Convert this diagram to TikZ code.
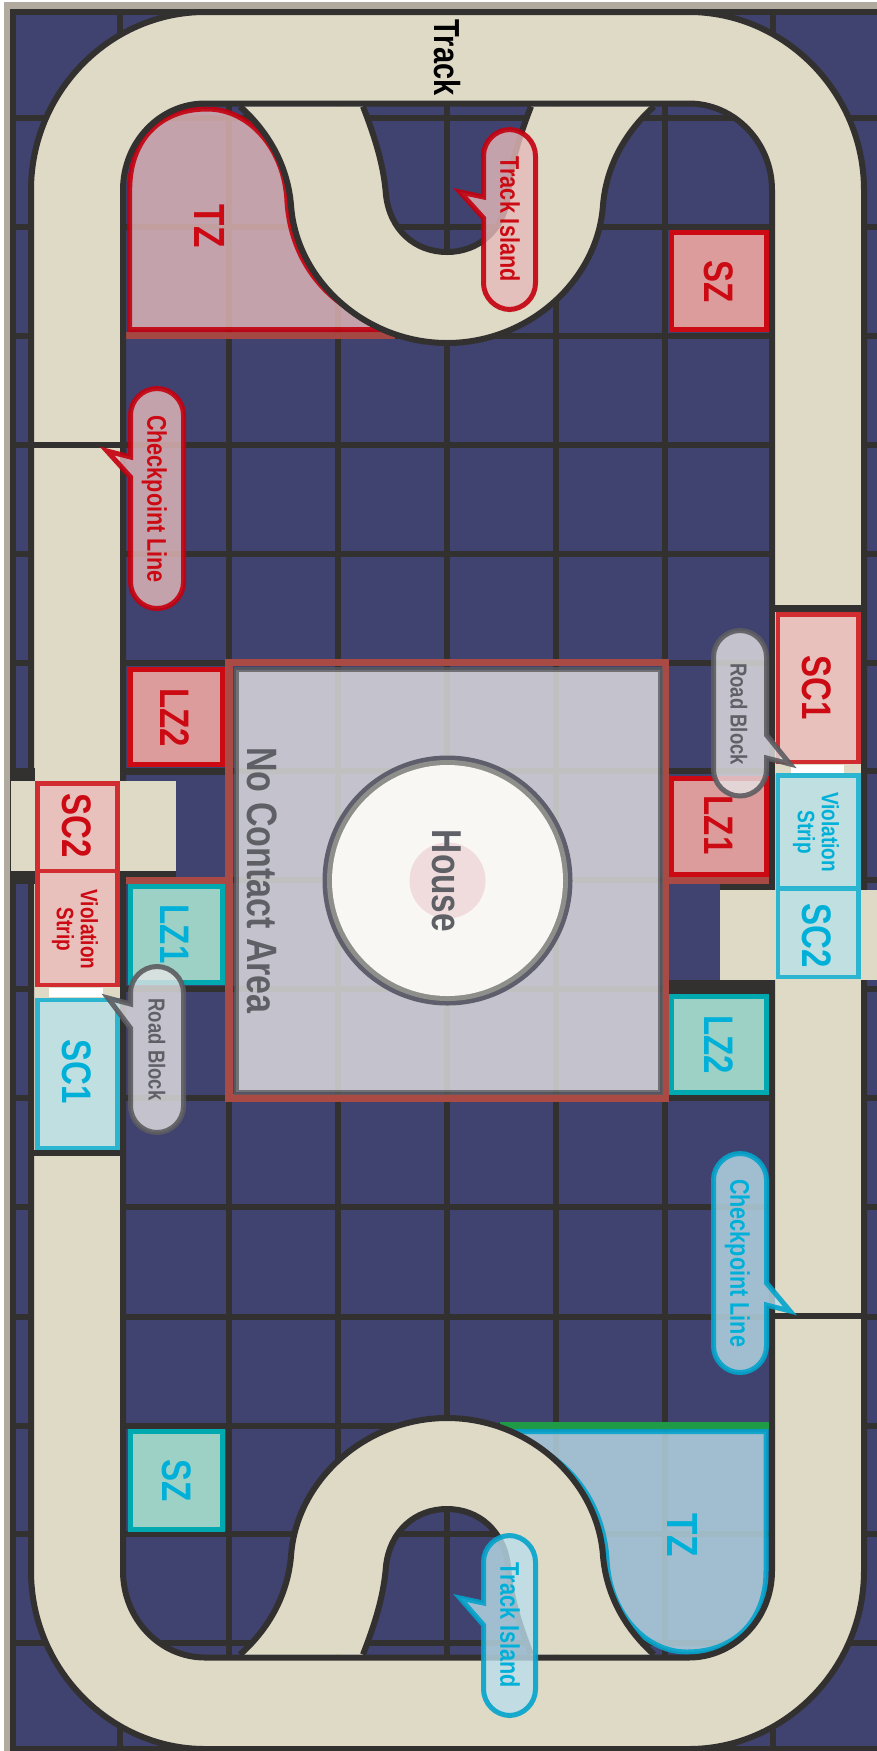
\documentclass[tikz,border=0pt]{standalone}
\usepackage{graphicx}
\usepackage{fontspec}
\setmainfont{Liberation Sans}
\newfontfamily\lblfont{Liberation Sans Bold}
\definecolor{navy}{HTML}{404270}
\definecolor{gridc}{HTML}{333130}
\definecolor{beige}{HTML}{DFDAC6}
\definecolor{edgeg}{HTML}{B0AB9E}
\definecolor{rd}{HTML}{CC0A14}
\definecolor{rdb}{HTML}{D12C30}
\definecolor{rdf}{HTML}{E8C0BC}
\definecolor{rdz}{HTML}{DD9C9C}
\definecolor{rds}{HTML}{C4000E}
\definecolor{rdt}{HTML}{E6BABB}
\definecolor{bl}{HTML}{00B0D8}
\definecolor{bls}{HTML}{04A4CC}
\definecolor{blb}{HTML}{2BB5D0}
\definecolor{blf}{HTML}{C0DFE0}
\definecolor{blt}{HTML}{BADDEA}
\definecolor{tlb}{HTML}{00A9B0}
\definecolor{tlf}{HTML}{9DD1C5}
\definecolor{gyt}{HTML}{E5E4E5}
\definecolor{gys}{HTML}{5C5C60}
\definecolor{gyx}{HTML}{5F5F66}
\definecolor{brn}{HTML}{AA4A44}
\definecolor{grn}{HTML}{1F9A46}
\definecolor{ringd}{HTML}{5E5E6C}
\definecolor{ringg}{HTML}{8E8E8A}
\definecolor{housef}{HTML}{F9F7F3}
\definecolor{housep}{HTML}{F0DCDC}
\tikzset{
 gridline/.style={draw=gridc,line width=6.5pt},
 trackedge/.style={draw=gridc,line width=6pt,line join=round},
 txtlabel/.style={rotate=-90,inner sep=0pt,anchor=base,font=\lblfont},
 redcall/.style={draw=rds,fill=rdt,draw opacity=.9,fill opacity=.8,line width=5pt,line join=miter},
 bluecall/.style={draw=bls,fill=blt,draw opacity=.9,fill opacity=.8,line width=5pt,line join=miter},
 greycall/.style={draw=gys,fill=gyt,draw opacity=.9,fill opacity=.8,line width=5pt,line join=miter},
 redzone/.style={draw=rd,fill=rdz,line width=5pt},
 tealzone/.style={draw=tlb,fill=tlf,line width=5pt},
 redstrip/.style={draw=rdb,fill=rdf,line width=4.8pt},
 bluestrip/.style={draw=blb,fill=blf,line width=4.8pt}
}
\newcommand\txtlab[6]{\node[txtlabel,text=#5] (#1) at ({#2-0.4475*#4},#3) {\fontsize{#4}{#4}\selectfont\scalebox{1}[1.25]{#6}};}
\newcommand\pillcall[7]{\draw[#1] ({#2},{#3+26.5}) .. controls ({#2},{#3+12}) and ({#2+12},{#3}) .. ({#2+26.5},{#3}) -- ({#4-26.5},{#3}) .. controls ({#4-12},{#3}) and ({#4},{#3+12}) .. ({#4},{#3+26.5}) #6 -- ({#4},{#5-26.5}) .. controls ({#4},{#5-12}) and ({#4-12},{#5}) .. ({#4-26.5},{#5}) -- ({#2+26.5},{#5}) .. controls ({#2+12},{#5}) and ({#2},{#5-12}) .. ({#2},{#5-26.5}) #7 -- cycle;}
\begin{document}
\begin{tikzpicture}[x=1pt,y=-1pt]
\useasboundingbox (0,0) rectangle (877,1751);
\fill[white] (0,0) rectangle (877,1751);
\fill[edgeg] (4,2) rectangle (877,12);
\fill[edgeg] (4,2) rectangle (12,1751);
\fill[navy] (12,12) rectangle (877,1751);
% grid
\foreach \gx in {13,120,229,338,447,556,665,773}{\draw[gridline] (\gx,9) -- (\gx,1751);}
\foreach \gy in {12,118,227,336,445,554,663,771,880,989,1098,1207,1317,1426,1534,1643,1749}{\draw[gridline] (10,\gy) -- (877,\gy);}
% target zones under the track
\fill[brn,opacity=.95] (126,332) rectangle (395,339);
\fill[grn] (500,1422) rectangle (769,1429);
\draw[draw=rds,fill=rdt,draw opacity=.9,fill opacity=.8,line width=5pt] (129.7,329.5) -- (129.7,190) .. controls (129.7,140) and (160,109) .. (207,109) .. controls (250,109) and (285,150) .. (287,202) .. controls (292,277) and (349,329.5) .. (424,329.5) -- cycle;
\draw[draw=bls,fill=blt,draw opacity=.9,fill opacity=.8,line width=5pt] (766,1431.5) -- (766,1571) .. controls (766,1621) and (734,1652) .. (687,1652) .. controls (644,1652) and (609,1611) .. (607,1559) .. controls (602,1484) and (545,1431.5) .. (470,1431.5) -- cycle;
% track ring
\filldraw[trackedge,fill=beige,even odd rule]
 (31,190) .. controls (31,92) and (110,12) .. (205,12) -- (689,12) .. controls (784,12) and (864,92) .. (864,190) -- (864,1571) .. controls (864,1669) and (784,1749) .. (689,1749) -- (205,1749) .. controls (110,1749) and (31,1669) .. (31,1571) -- cycle
 (123,190) .. controls (123,142) and (160,103.5) .. (205,103.5) -- (689,103.5) .. controls (734,103.5) and (772,142) .. (772,190) -- (772,1571) .. controls (772,1619) and (734,1657.5) .. (689,1657.5) -- (205,1657.5) .. controls (160,1657.5) and (123,1619) .. (123,1571) -- cycle;
% top hairpin
\fill[beige] (240,106.5) .. controls (272,135) and (288,170) .. (291,205) .. controls (296,280) and (365,343) .. (447,343) .. controls (529,343) and (598,280) .. (603,205) .. controls (606,170) and (622,135) .. (654,106.5) -- (531,106.5) .. controls (516,145) and (510,170) .. (508,195) .. controls (504,230) and (479,252) .. (447,252) .. controls (415,252) and (390,230) .. (386,195) .. controls (384,170) and (378,145) .. (363,106.5) -- cycle;
\draw[trackedge] (240,106.5) .. controls (272,135) and (288,170) .. (291,205) .. controls (296,280) and (365,343) .. (447,343) .. controls (529,343) and (598,280) .. (603,205) .. controls (606,170) and (622,135) .. (654,106.5);
\draw[trackedge] (531,106.5) .. controls (516,145) and (510,170) .. (508,195) .. controls (504,230) and (479,252) .. (447,252) .. controls (415,252) and (390,230) .. (386,195) .. controls (384,170) and (378,145) .. (363,106.5);
% bottom hairpin
\fill[beige] (240,1654.5) .. controls (272,1626) and (288,1591) .. (291,1556) .. controls (296,1481) and (365,1418) .. (447,1418) .. controls (529,1418) and (598,1481) .. (603,1556) .. controls (606,1591) and (622,1626) .. (654,1654.5) -- (531,1654.5) .. controls (516,1616) and (510,1591) .. (508,1566) .. controls (504,1531) and (479,1509) .. (447,1509) .. controls (415,1509) and (390,1531) .. (386,1566) .. controls (384,1591) and (378,1616) .. (363,1654.5) -- cycle;
\draw[trackedge] (240,1654.5) .. controls (272,1626) and (288,1591) .. (291,1556) .. controls (296,1481) and (365,1418) .. (447,1418) .. controls (529,1418) and (598,1481) .. (603,1556) .. controls (606,1591) and (622,1626) .. (654,1654.5);
\draw[trackedge] (531,1654.5) .. controls (516,1616) and (510,1591) .. (508,1566) .. controls (504,1531) and (479,1509) .. (447,1509) .. controls (415,1509) and (390,1531) .. (386,1566) .. controls (384,1591) and (378,1616) .. (363,1654.5);
% checkpoint lines and lane ends
\fill[gridc] (31,442) rectangle (123,448);
\fill[gridc] (772,1313) rectangle (864,1319);
\fill[gridc] (772,605) rectangle (864,612);
\fill[gridc] (31,1150) rectangle (123,1156);
% side roads
\fill[gridc] (11,768) rectangle (35,781);
\fill[gridc] (120,768) rectangle (225,775);
\fill[gridc] (11,871) rectangle (35,884);
\fill[gridc] (120,871) rectangle (176,877);
\fill[beige] (11,781) rectangle (176,871);
\fill[navy] (176,775) rectangle (225,876.5);
\fill[brn] (126,876.5) rectangle (225,883.5);
\fill[brn] (669,876.5) rectangle (769,883.5);
\fill[gridc] (720,883.5) rectangle (775,890);
\fill[gridc] (669,980) rectangle (775,993.6);
\fill[navy] (669,883.5) rectangle (720,980);
\fill[beige] (720,890) rectangle (877,980);
% white strips
\fill[beige] (35,987) rectangle (120,998);
\fill[white] (49,988) rectangle (103,997);
\fill[beige] (775,764) rectangle (861,774);
\fill[white] (791,765) rectangle (844,773);
% no contact area
\draw[brn,line width=7.5pt] (229,662.7) rectangle (665.5,1098.2);
\draw[draw=gys,fill=gyt,draw opacity=.8,fill opacity=.8,line width=5pt] (236,669.5) rectangle (660,1092);
\fill[ringd] (447.5,880.5) circle (125pt);
\fill[ringg] (447.5,880.5) circle (120.5pt);
\fill[housef] (447.5,880.5) circle (115.5pt);
\fill[housep] (447.5,880.5) circle (38pt);
% zones
\draw[redzone] (130,669) rectangle (222.5,764.5);
\draw[redzone] (671.5,232.5) rectangle (766.5,329.5);
\draw[redzone] (671.5,778.5) rectangle (766.5,874);
\draw[tealzone] (130,886.5) rectangle (222.5,982.5);
\draw[tealzone] (671.5,996) rectangle (766.5,1092);
\draw[tealzone] (130,1431.5) rectangle (222.5,1529.5);
% start boxes and strips
\draw[redstrip] (37.5,783.5) rectangle (117.5,871);
\draw[redstrip] (37.5,871) rectangle (117.5,985);
\draw[bluestrip] (37.5,1000) rectangle (117.5,1148);
\draw[redstrip] (778,614.5) rectangle (858.5,762);
\draw[bluestrip] (778,775.5) rectangle (858.5,888.6);
\draw[bluestrip] (778,888.6) rectangle (858.5,977);
% labels below callouts
\txtlab{trk}{447}{57.5}{29}{black}{Track}
\txtlab{tzr}{210}{226}{35}{rd}{TZ}
\txtlab{szr}{719}{282}{33}{rd}{SZ}
\txtlab{lz2r}{175}{717.5}{33}{rd}{LZ2}
\txtlab{lz1t}{175}{934}{33}{bl}{LZ1}
\txtlab{lz1r}{719}{825}{33}{rd}{LZ1}
\txtlab{lz2t}{719}{1044.5}{33}{bl}{LZ2}
\txtlab{sc2r}{77}{826}{33}{rd}{SC2}
\txtlab{sc1b}{77}{1072}{33}{bl}{SC1}
\txtlab{sc2b}{817}{935.5}{33}{bl}{SC2}
\txtlab{sc1r}{817}{687.5}{33}{rd}{SC1}
\txtlab{house}{447}{881}{33.4}{gyx}{House}
\txtlab{nca}{263}{880.5}{34}{gyx}{No Contact Area}
\txtlab{szt}{177}{1480.5}{33}{bl}{SZ}
\txtlab{tzb}{683}{1535}{35}{bl}{TZ}
\node[rotate=-90,inner sep=0pt,align=center,text=rd,font=\lblfont\fontsize{19}{24}\selectfont] (vsr) at (75,929.5) {\scalebox{1}[1.25]{Violation}\\\scalebox{1}[1.25]{Strip}};
\node[rotate=-90,inner sep=0pt,align=center,text=bl,font=\lblfont\fontsize{19}{24}\selectfont] (vsb) at (816,832) {\scalebox{1}[1.25]{Violation}\\\scalebox{1}[1.25]{Strip}};
% callouts
\pillcall{redcall}{483.5}{129.5}{535.5}{309.5}{}{-- (483.5,218) -- (460,192) -- (483.5,197)}
\pillcall{bluecall}{483.5}{1535.5}{535.5}{1715.5}{}{-- (483.5,1625) -- (460,1598) -- (483.5,1603)}
\pillcall{redcall}{130.5}{388.5}{183.5}{608.5}{}{-- (130.5,477) -- (107,451) -- (130.5,457)}
\pillcall{bluecall}{713.5}{1153.5}{766.5}{1372.5}{-- (766.5,1283) -- (790,1311) -- (766.5,1305)}{}
\pillcall{greycall}{130.5}{966.5}{183.5}{1132.5}{}{-- (130.5,1028) -- (108,998) -- (130.5,1004)}
\pillcall{greycall}{713.5}{630.5}{766.5}{796}{-- (766.5,735) -- (790,764) -- (766.5,758)}{}
\txtlab{ti1}{510}{219}{21.6}{rd}{Track Island}
\txtlab{ti2}{510}{1625}{21.6}{bl}{Track Island}
\txtlab{cl1}{157}{499}{21.6}{rd}{Checkpoint Line}
\txtlab{cl2}{740}{1263}{21.6}{bl}{Checkpoint Line}
\txtlab{rb1}{157}{1049.5}{18.5}{gyx}{Road Block}
\txtlab{rb2}{739}{714}{18.5}{gyx}{Road Block}
\end{tikzpicture}
\end{document}
